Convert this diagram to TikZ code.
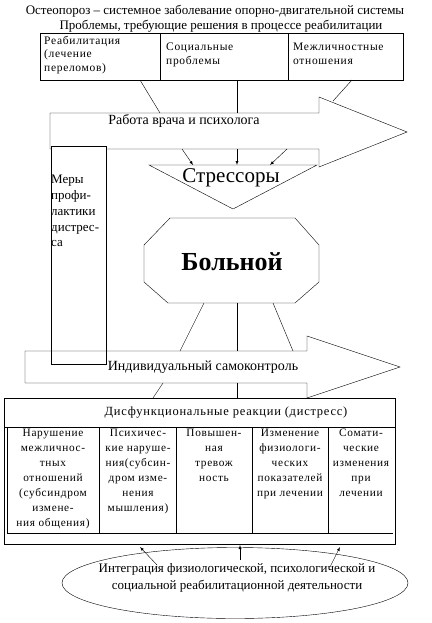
\documentclass[tikz,border=0pt]{standalone}
\usepackage{fontspec}
\setmainfont{Liberation Serif}
\newfontfamily\cellfont[LetterSpace=6]{Liberation Serif}
\usetikzlibrary{shapes,arrows}
\usetikzlibrary{calc}

\tikzset{
    cell/.style = {font=\cellfont\fontsize{11.5}{13.5}\selectfont, align=left, anchor=north west, inner sep=0pt},
    subcell/.style = {font=\cellfont\fontsize{11.3}{15}\selectfont, align=center, anchor=north, inner sep=0pt},
    frame/.style = {thin, black},
    link/.style = {thin, black},
    tolink/.style = {thin, black, -latex}
}

\begin{document}
\begin{tikzpicture}[x=1pt, y=-1pt]
    \useasboundingbox (0,0) rectangle (431,623);

    % Titles
    \node [font=\fontsize{13}{15}\selectfont] (Title) at (215,11) {Остеопороз -- системное заболевание опорно-двигательной системы};
    \node [font=\fontsize{13}{15}\selectfont] (SubTitle) at (221,26) {Проблемы, требующие решения в процессе реабилитации};

    % Table of problems
    \coordinate (ProbNW) at (40,33);
    \coordinate (ProbSE) at (403,80);
    \draw [frame] (ProbNW) rectangle (ProbSE);
    \draw [frame] (160,33) -- (160,80);
    \draw [frame] (288,33) -- (288,80);
    \node [cell] (ProbOne)   at (44,36)  {Реабилитация\\(лечение\\переломов)};
    \node [cell] (ProbTwo)   at (166,43) {Социальные\\проблемы};
    \node [cell] (ProbThree) at (293,43) {Межличностные\\отношения};

    % Arrow: work of doctor and psychologist
    \draw [frame] (50,113) -- (319,113) -- (319,97) -- (407,132) -- (319,167)
        -- (319,149) -- (50,149) -- cycle;
    \node [font=\fontsize{14}{16}\selectfont] (Work) at (184,121) {Работа врача и психолога};

    % Prevention box
    \draw [frame, fill=white] (51,146) rectangle (106,364);
    \node [font=\fontsize{13}{15.8}\selectfont, align=left, anchor=north west, inner sep=0pt] (Prevention) at (51,175)
        {Меры\\профи-\\лактики\\дистрес-\\са};

    % Stressors
    \coordinate (StressA) at (149,165);
    \coordinate (StressB) at (317,165);
    \coordinate (StressC) at (233,209);
    \draw [frame] (StressA) -- (StressB) -- (StressC) -- cycle;
    \node [font=\fontsize{21}{24}\selectfont] (Stress) at (231,178) {Стрессоры};

    % Patient
    \draw [frame] (170,218) -- (295,218) -- (319,245) -- (319,282) -- (295,303)
        -- (168,303) -- (144,282) -- (144,245) -- cycle;
    \node [font=\fontsize{26}{28}\selectfont\bfseries] (Patient) at (232,262) {Больной};

    % Arrow: self-control
    \draw [frame] (25,351) -- (307,351) -- (307,336) -- (400,367) -- (307,398)
        -- (307,383) -- (25,383) -- cycle;
    \node [font=\fontsize{14}{16}\selectfont] (Control) at (203,367) {Индивидуальный самоконтроль};

    % Table of reactions
    \draw [frame] (4,398) rectangle (395,544);
    \draw [frame] (4,427) -- (395,427);
    \draw [frame] (7,427) -- (7,533) -- (393,533);
    \foreach \x in {99, 176, 252, 328} {
        \draw [frame] (\x,427) -- (\x,533);
    }
    \node [font=\cellfont\fontsize{12.5}{14}\selectfont] (Distress) at (226,413) {Дисфункциональные реакции (дистресс)};
    \node [subcell] (ReactOne)   at (53,429)  {Нарушение\\межличнос-\\тных\\отношений\\(субсиндром\\измене-\\ния общения)};
    \node [subcell] (ReactTwo)   at (138,429) {Психичес-\\кие наруше-\\ния(субсин-\\дром изме-\\нения\\мышления)};
    \node [subcell] (ReactThree) at (214,429) {Повышен-\\ная\\тревож\\ность};
    \node [subcell] (ReactFour)  at (290,429) {Изменение\\физиологи-\\ческих\\показателей\\при лечении};
    \node [subcell] (ReactFive)  at (361,429) {Сомати-\\ческие\\изменения\\при\\лечении};

    % Integration
    \node [draw, ellipse, minimum width=346pt, minimum height=71pt, inner sep=0pt] (Integr) at (235,583) {};
    \node [font=\fontsize{13}{17}\selectfont, align=center] (IntegrText) at (237,578)
        {Интеграция физиологической, психологической и\\социальной реабилитационной деятельности};

    % Connectors
    \draw [link] (140,80) -- (160,113);
    \draw [link] (237,80) -- (237,113);
    \draw [link] (352,80) -- (333,101);

    \draw [tolink] (182,149) -- (193,165);
    \draw [tolink] (237,149) -- (237,165);
    \draw [tolink] (287,149) -- (270,165);

    \draw [link] (204,303) -- (180,351);
    \draw [link] (237,303) -- (237,351);
    \draw [link] (273,303) -- (293,351);

    \draw [link] (163,383) -- (153,398);
    \draw [link] (237,383) -- (237,398);

    \draw [tolink] (157,565) -- (140,547);
    \draw [tolink] (240,560) -- (240,545);
    \draw [tolink] (330,567) -- (340,547);
\end{tikzpicture}
\end{document}
